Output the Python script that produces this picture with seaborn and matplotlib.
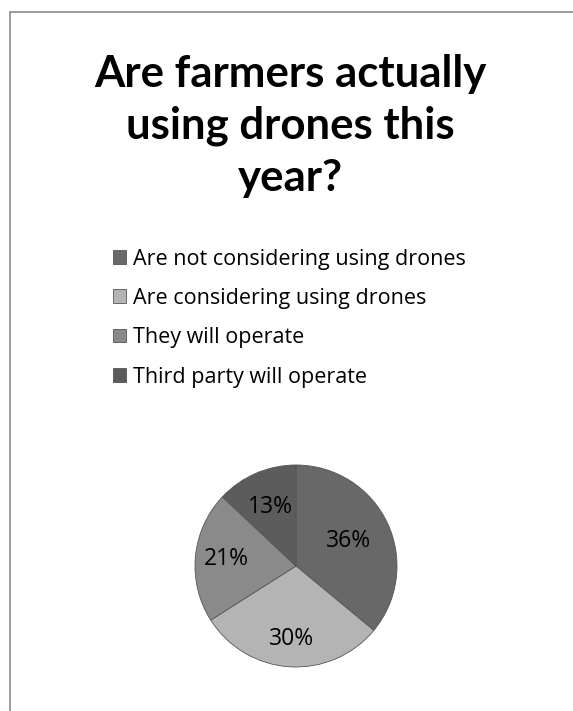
import matplotlib
matplotlib.use("Agg")
import numpy as np
import matplotlib.pyplot as plt
import seaborn as sns
from matplotlib.patches import Rectangle

categories = ["Are not considering using drones", "Are considering using drones",
              "They will operate", "Third party will operate"]
values = [36, 30, 21, 13]
colors = ["#686868", "#b4b4b4", "#8a8a8a", "#5c5c5c"]
label_dist = [0.57, 0.72, 0.69, 0.64]
title = "Are farmers actually\nusing drones this\nyear?"

sns.set_theme(style="white")
plt.rcParams['font.family'] = ['Open Sans', 'DejaVu Sans']
plt.rcParams['text.color'] = 'black'

W, H = 573, 711
fig = plt.figure(figsize=(W / 100, H / 100), dpi=100)
fig.patch.set_facecolor("white")

# frame
fig.add_artist(Rectangle((10 / W, -0.01), 1.0, (H - 12) / H + 0.01, transform=fig.transFigure,
                         fill=False, edgecolor="#8a8a8a", linewidth=1.2))

fig.text(290 / W, 1 - 126 / H, title, ha="center", va="center", fontsize=31.5,
         fontweight="bold", linespacing=1.36, color="black", family=['Lato', 'DejaVu Sans'])

r = 101
cx, cy = 296, 566
ax = fig.add_axes([(cx - r) / W, 1 - (cy + r) / H, 2 * r / W, 2 * r / H])
wedges, texts = ax.pie(values, colors=colors, startangle=90, counterclock=False,
                       wedgeprops=dict(edgecolor="#555555", linewidth=0.6))
total = sum(values)
for w, v, d in zip(wedges, values, label_dist):
    ang = np.deg2rad((w.theta1 + w.theta2) / 2)
    ax.text(d * np.cos(ang), d * np.sin(ang), f"{v / total * 100:.0f}%",
            ha="center", va="center", fontsize=16.5, color="black")
ax.set_xlim(-1, 1)
ax.set_ylim(-1, 1)
ax.set_aspect("equal")

leg = fig.legend(wedges, categories, loc="upper left", bbox_to_anchor=(104 / W, 1 - 240 / H),
                 frameon=False, fontsize=15.5, handlelength=0.6, handleheight=0.6,
                 handletextpad=0.35, labelspacing=0.85, borderaxespad=0, labelcolor="black")

fig.savefig("out.png", dpi=100)
